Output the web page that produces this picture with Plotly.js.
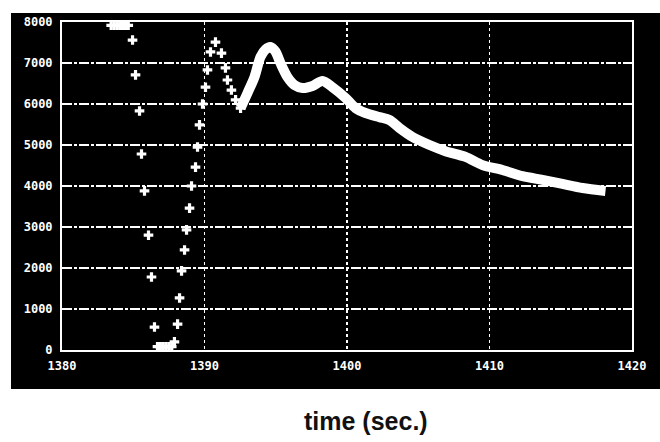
<!DOCTYPE html>
<html>
<head>
<meta charset="utf-8">
<script src="https://cdn.plot.ly/plotly-3.0.1.min.js"></script>
<style>
  html, body { margin: 0; padding: 0; background: #ffffff; }
  #chart { width: 660px; height: 442px; }
</style>
</head>
<body>
<div id="chart"></div>
<script>
// ---- data ----
// sparse samples (falling, bottoming out and rising)
var sparseTime = [
  1383.45, 1383.65, 1383.85, 1384.05, 1384.25, 1384.45, 1384.65,
  1384.95, 1385.16, 1385.44, 1385.58, 1385.79, 1386.07, 1386.28, 1386.49,
  1386.70, 1386.90, 1387.10, 1387.30, 1387.50, 1387.70,
  1387.89, 1388.11, 1388.25, 1388.39, 1388.60, 1388.74, 1388.95, 1389.09,
  1389.37, 1389.51, 1389.65, 1389.86, 1390.07, 1390.21, 1390.42, 1390.77,
  1391.19, 1391.47, 1391.61, 1391.89, 1392.18, 1392.53
];
var sparseValue = [
  7920, 7920, 7920, 7920, 7920, 7920, 7920,
  7560, 6710, 5830, 4780, 3880, 2800, 1780, 560,
  80, 80, 80, 80, 80, 80,
  200, 630, 1270, 1930, 2440, 2930, 3460, 4000,
  4460, 4950, 5490, 6000, 6410, 6830, 7270, 7510,
  7240, 6880, 6585, 6340, 6100, 5900
];
// dense samples (drawn as a thick band)
var denseTime = [
  1392.53, 1393.02, 1393.51, 1393.93, 1394.28, 1394.63, 1394.98, 1395.33,
  1395.82, 1396.32, 1396.88, 1397.58, 1398.28, 1398.98, 1399.89, 1400.60,
  1401.30, 1402.28, 1402.98, 1403.68, 1404.60, 1405.79, 1406.91, 1408.32,
  1409.51, 1410.91, 1412.32, 1413.72, 1415.12, 1416.53, 1418.14
];
var denseValue = [
  5900, 6270, 6660, 7150, 7330, 7390, 7280, 7000,
  6660, 6460, 6390, 6440, 6560, 6410, 6150, 5900,
  5780, 5680, 5610, 5415, 5195, 5000, 4850, 4710,
  4510, 4390, 4240, 4150, 4050, 3950, 3880
];
var xTickVals = [1380, 1390, 1400, 1410, 1420];
var xTickText = ['1380', '1390', '1400', '1410', '1420'];
var yTickVals = [0, 1000, 2000, 3000, 4000, 5000, 6000, 7000, 8000];
var yTickText = ['0', '1000', '2000', '3000', '4000', '5000', '6000', '7000', '8000'];
var xTitle = 'time (sec.)';

// ---- layout geometry ----
var W = 660, H = 442;
var L = 62, R = 632, T = 22, B = 350;
function px2paperX(px) { return (px - L) / (R - L); }
function px2paperY(py) { return (B - py) / (B - T); }

var traces = [
  {
    x: denseTime, y: denseValue, type: 'scatter', mode: 'lines',
    line: { color: '#ffffff', width: 10, shape: 'spline', smoothing: 0.8 },
    hoverinfo: 'skip', cliponaxis: false, showlegend: false
  },
  {
    x: sparseTime, y: sparseValue, type: 'scatter', mode: 'markers',
    marker: { symbol: 'cross', size: 8, color: '#ffffff', line: { width: 0 } },
    hoverinfo: 'skip', cliponaxis: false, showlegend: false
  }
];

var tickFont = { family: 'DejaVu Sans Mono', size: 12, color: '#ffffff', weight: 'bold' };

var layout = {
  width: W, height: H,
  margin: { l: L, r: W - R, t: T, b: H - B, pad: 0 },
  paper_bgcolor: '#ffffff',
  plot_bgcolor: '#000000',
  showlegend: false,
  xaxis: {
    range: [1380, 1420], tickmode: 'array', tickvals: xTickVals, ticktext: xTickText,
    showgrid: true, gridcolor: '#ffffff', gridwidth: 1.5, griddash: 'dot',
    showline: true, linecolor: '#ffffff', linewidth: 2, mirror: true,
    ticks: 'outside', ticklen: 4, tickcolor: '#000000', tickfont: tickFont, zeroline: false,
    title: { text: '' }, fixedrange: true, automargin: false
  },
  yaxis: {
    range: [0, 8000], tickmode: 'array', tickvals: yTickVals, ticktext: yTickText,
    showgrid: true, gridcolor: '#ffffff', gridwidth: 1.5, griddash: '10px,2px,3px,2px',
    showline: true, linecolor: '#ffffff', linewidth: 2, mirror: true,
    ticks: 'outside', ticklen: 5, tickcolor: '#000000', tickfont: tickFont, zeroline: false,
    title: { text: '' }, fixedrange: true, automargin: false
  },
  shapes: [
    {
      type: 'rect', xref: 'paper', yref: 'paper', layer: 'below',
      x0: px2paperX(11), x1: px2paperX(662), y0: px2paperY(389), y1: px2paperY(13),
      fillcolor: '#000000', line: { width: 0 }
    }
  ],
  annotations: [
    {
      text: xTitle, xref: 'paper', yref: 'paper',
      x: px2paperX(366), y: px2paperY(421), xanchor: 'center', yanchor: 'middle',
      showarrow: false,
      font: { family: 'Liberation Sans, Arial, sans-serif', size: 25, color: '#111111', weight: 'bold' }
    }
  ]
};

Plotly.newPlot('chart', traces, layout, { staticPlot: true, displayModeBar: false });
</script>
</body>
</html>
